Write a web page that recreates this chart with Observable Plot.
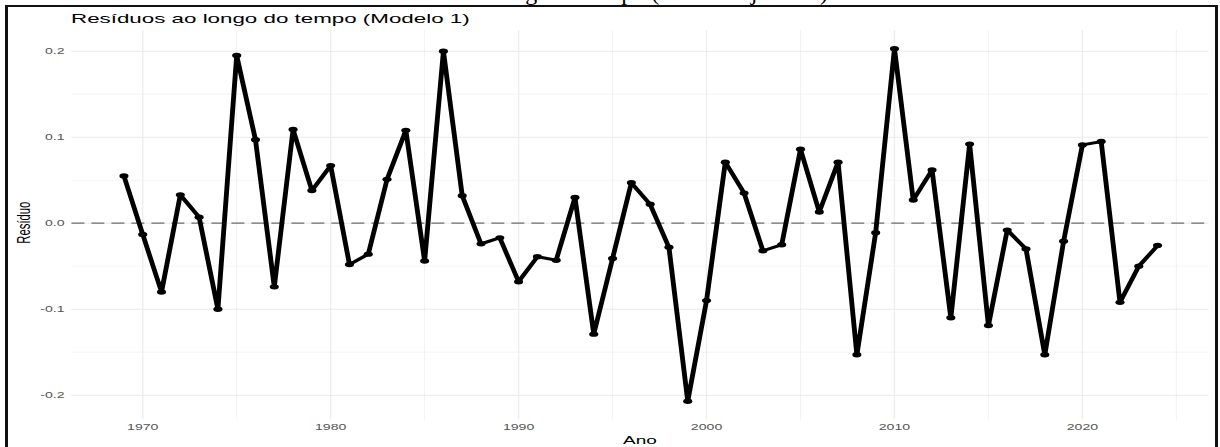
<!DOCTYPE html>
<html>
<head>
<meta charset="utf-8">
<script src="https://cdn.jsdelivr.net/npm/d3@7"></script>
<script src="https://cdn.jsdelivr.net/npm/@observablehq/plot@0.6"></script>
<style>
html, body { margin: 0; padding: 0; background: #fff; }
#wrap { position: relative; width: 1220px; height: 447px; overflow: hidden; background: #fff;
  font-family: "Liberation Sans", Arial, Helvetica, sans-serif; }
#chart { position: absolute; left: 0; top: 0; }
#chart svg { display: block; }
.frame { position: absolute; left: 5px; top: 5px; width: 1213px; height: 500px; box-sizing: border-box;
  border: 3px solid #111; border-top-width: 2px; pointer-events: none; }
.suptitle { position: absolute; left: 80px; width: 1040px; top: -20px; font-family: "Liberation Serif", "Times New Roman", serif;
  font-size: 24px; line-height: 1; text-align: center; color: #000; white-space: nowrap; }
.title { position: absolute; left: 71px; top: 12.3px; font-size: 13.3px; line-height: 1; color: #000; white-space: nowrap;
  transform: scaleX(1.68); transform-origin: left center; }
.xlab { position: absolute; left: 540px; width: 200px; top: 434.5px; font-size: 11.3px; line-height: 1; text-align: center;
  color: #000; transform: scaleX(1.68); transform-origin: center center; }
.ylab { position: absolute; left: -76px; width: 200px; top: 217.35px; height: 11.3px; font-size: 11.3px; line-height: 1;
  text-align: center; color: #000; transform: scaleX(1.68) rotate(-90deg); transform-origin: center center; }
</style>
</head>
<body>
<div id="wrap">
  <div id="chart"></div>
  <div class="suptitle">Resíduos ao longo do tempo (Modelo ajustado)</div>
  <div class="title">Resíduos ao longo do tempo (Modelo 1)</div>
  <div class="xlab">Ano</div>
  <div class="ylab">Resíduo</div>
  <div class="frame"></div>
</div>
<script>
const years = [1969,1970,1971,1972,1973,1974,1975,1976,1977,1978,1979,1980,1981,1982,1983,1984,1985,1986,1987,1988,1989,
  1990,1991,1992,1993,1994,1995,1996,1997,1998,1999,2000,2001,2002,2003,2004,2005,2006,2007,2008,2009,
  2010,2011,2012,2013,2014,2015,2016,2017,2018,2019,2020,2021,2022,2023,2024];
const residuals = [0.055,-0.013,-0.080,0.033,0.007,-0.100,0.195,0.097,-0.074,0.109,0.038,0.067,-0.048,-0.036,0.051,0.108,-0.044,0.200,0.032,-0.024,-0.017,
  -0.068,-0.039,-0.043,0.030,-0.129,-0.041,0.047,0.022,-0.028,-0.207,-0.090,0.071,0.035,-0.032,-0.025,0.086,0.013,0.071,-0.153,-0.011,
  0.203,0.027,0.062,-0.110,0.092,-0.119,-0.008,-0.030,-0.153,-0.021,0.091,0.095,-0.092,-0.050,-0.026];
const xTicks = [1970, 1980, 1990, 2000, 2010, 2020];
const xMinor = [1975, 1985, 1995, 2005, 2015, 2025];
const yTicks = [-0.2, -0.1, 0, 0.1, 0.2];
const yMinor = [-0.15, -0.05, 0.05, 0.15];
const zeroLine = [0];

const data = years.map((year, i) => ({year, res: residuals[i]}));

const W = 726;
const plot = Plot.plot({
  width: W,
  height: 447,
  marginLeft: 42.5,
  marginRight: W - 719.1,
  marginTop: 30,
  marginBottom: 27.7,
  style: {fontSize: "8.4px", fontFamily: "Liberation Sans, Arial, sans-serif", color: "#555", background: "transparent", overflow: "visible"},
  x: {domain: [1966.25, 2026.75], ticks: xTicks, tickFormat: d => String(d), tickSize: 0, tickPadding: 4.5, label: null},
  y: {domain: [-0.2286, 0.2241], ticks: yTicks, tickFormat: d => d.toFixed(1), tickSize: 0, tickPadding: 4.6, label: null},
  marks: [
    Plot.ruleX(xMinor, {stroke: "#f2f2f2", strokeWidth: 0.6}),
    Plot.ruleY(yMinor, {stroke: "#f0f0f0", strokeWidth: 0.7}),
    Plot.ruleX(xTicks, {stroke: "#ededed", strokeWidth: 0.8}),
    Plot.ruleY(yTicks, {stroke: "#e9e9e9", strokeWidth: 1.1}),
    Plot.ruleY(zeroLine, {stroke: "#6e6e6e", strokeWidth: 1.3, strokeDasharray: "7.7,4.2"}),
    Plot.line(data, {x: "year", y: "res", stroke: "#000", strokeWidth: 2.9}),
    Plot.dot(data, {x: "year", y: "res", r: 2.7, fill: "#000"})
  ]
});
plot.setAttribute("width", 1220);
plot.setAttribute("preserveAspectRatio", "none");
document.getElementById("chart").appendChild(plot);
</script>
</body>
</html>
